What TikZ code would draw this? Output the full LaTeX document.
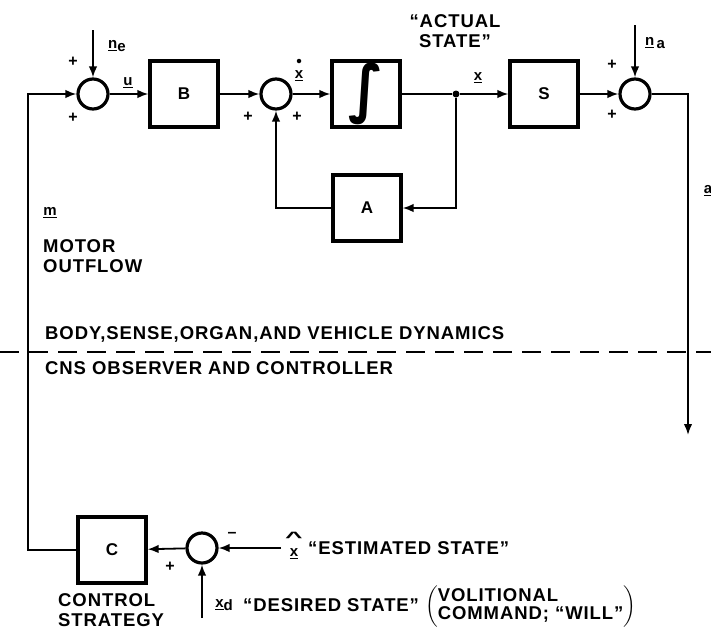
\documentclass[tikz,border=0pt]{standalone}
\usepackage{amsmath}
\usepackage{fontspec}
\setmainfont{Liberation Sans}
\newfontfamily\symfont{DejaVu Sans}
\usetikzlibrary{arrows.meta}
\begin{document}
\begin{tikzpicture}
[x=1pt,y=-1pt,
  lineDecorate/.style={-,line width=1.8pt},%
  arrowDecorate/.style={-{Latex[length=11pt,width=8.5pt]},line width=1.8pt},
  dashDecorate/.style={-,line width=2.4pt,dash pattern=on 19pt off 10pt},
  blockDecorate/.style={shape=rectangle,draw,line width=3.2pt,minimum width=68pt,
    minimum height=66pt,inner sep=0pt,font=\fontsize{17}{17}\selectfont\bfseries},
  sumDecorate/.style={shape=circle,draw,line width=3.2pt,minimum size=30pt,inner sep=0pt},
  dotDecorate/.style={shape=circle,fill,inner sep=0pt,minimum size=7pt},
  signDecorate/.style={inner sep=0pt,font=\fontsize{16}{16}\selectfont\bfseries},
  varDecorate/.style={inner sep=0pt,align=center,font=\fontsize{15}{15}\selectfont\bfseries},
  labelDecorate/.style={inner sep=0pt,anchor=west,align=left,
    font=\fontsize{18.5}{20}\selectfont\bfseries\addfontfeature{LetterSpace=5}},
  scale=1]
\useasboundingbox (0,0) rectangle (711,635);
%% blocks
\foreach \nodename/\x/\y/\txt in {
  B/184/94/B, S/544/94/S, A/367/208/A, C/112/550/C}
{
  \node (\nodename) at (\x,\y) [blockDecorate] {\txt};
}
\node (int) at (366,94) [blockDecorate]
  {\scalebox{1.6}[1.75]{\fontsize{36}{36}\symfont\bfseries ∫}};
%% summing points
\foreach \nodename/\x/\y in {
  sum1/93/94, sum2/276/94, sum3/635/94, sum4/202/548}
{
  \node (\nodename) at (\x,\y) [sumDecorate] {};
}
\node (jx) at (456,94) [dotDecorate] {};
%% free ends
\coordinate (ne) at (93,30);
\coordinate (na) at (635,25);
\coordinate (out) at (688,435);
\coordinate (xhat) at (281,548);
\coordinate (xd) at (202,618);
\coordinate (mCorner) at (28,550);
\coordinate (divL) at (0,352);
\coordinate (divR) at (711,352);
%% edges or lines
\path
\foreach \startnode/\endnode in {
  ne/sum1, sum1/B, B/sum2, sum2/int, jx/S, S/sum3, na/sum3,
  xhat/sum4, xd/sum4, sum4/C}
{
  (\startnode) edge[arrowDecorate] (\endnode)
};
\draw [lineDecorate] (int) -- (jx);
\draw [arrowDecorate] (jx) |- (A);
\draw [arrowDecorate] (A) -| (sum2);
\draw [arrowDecorate] (sum3) -| (out);
\draw [arrowDecorate] (C) -- (mCorner) |- (sum1);
\draw [dashDecorate] (divL) -- (divR);
%% signs
\foreach \signname/\x/\y/\s in {
  p1/73/62/+, p2/73/118/+, p3/248/117/+, p4/297/117/+,
  p5/612/65/+, p6/612/115/+, p7/170/567/+, m1/232/535/--}
{
  \node (\signname) at (\x,\y) [signDecorate] {\s};
}
%% signal names
\node (xdotLab) at (299,76) [varDecorate] {\underline{x}};
\node (xdotMark) at (299,61) [dotDecorate,minimum size=4.5pt] {};
\node (xhatLab) at (294,546) [varDecorate]
  {\scalebox{2}[1]{\textasciicircum}\\[-1pt]\underline{x}};
\node (neLab) at (117,46) [varDecorate] {\underline{n}\raisebox{-3pt}{e}};
\node (uLab) at (128,83) [varDecorate] {\underline{u}};
\node (xLab) at (478,78) [varDecorate] {\underline{x}};
\node (naLab) at (655,43) [varDecorate] {\underline{n}\,\raisebox{-3pt}{a}};
\node (aLab) at (708,191) [varDecorate] {\underline{a}};
\node (mLab) at (50,213) [varDecorate] {\underline{m}};
\node (xdLab) at (224,605) [varDecorate] {\underline{x}\raisebox{-3pt}{d}};
%% texts
\node (actual) at (455,31) [labelDecorate,anchor=center,align=center] {``ACTUAL\\STATE''};
\node (motor) at (43,256) [labelDecorate] {MOTOR\\OUTFLOW};
\node (body) at (45,334) [labelDecorate] {BODY,SENSE,ORGAN,AND VEHICLE DYNAMICS};
\node (cns) at (45,368) [labelDecorate] {CNS OBSERVER AND CONTROLLER};
\node (strategy) at (58,610) [labelDecorate] {CONTROL\\STRATEGY};
\node (estimated) at (308,548) [labelDecorate] {``ESTIMATED STATE''};
\node (desired) at (243,607) [labelDecorate]
  {``DESIRED STATE'' $\left(\mbox{\def\arraystretch{0.85}%
  \begin{tabular}{@{}l@{}}VOLITIONAL\\COMMAND; ``WILL''\end{tabular}}\right)$};
\end{tikzpicture}
\end{document}
